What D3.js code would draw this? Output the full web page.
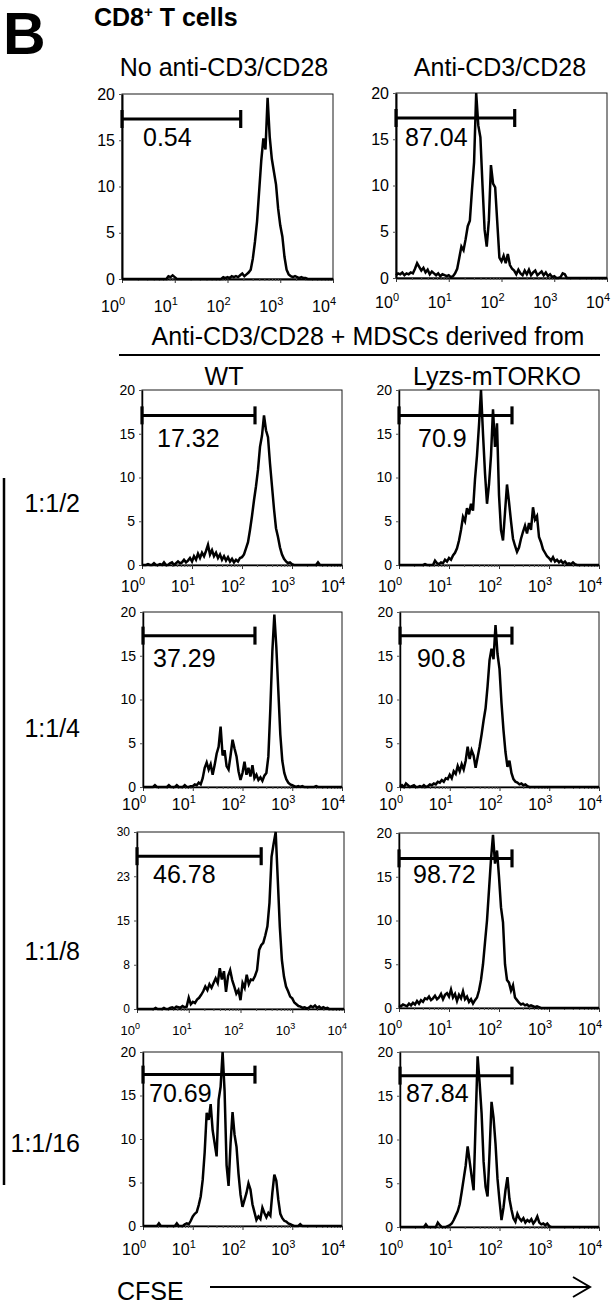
<!DOCTYPE html>
<html>
<head>
<meta charset="utf-8">
<script src="https://cdn.jsdelivr.net/npm/d3@7"></script>
<style>
  body { margin: 0; background: #fff; }
  svg { display: block; font-family: "Liberation Sans", Arial, sans-serif; }
</style>
</head>
<body>
<div id="chart"></div>
<script>
/* CD8+ T cell CFSE dilution histograms, 5 rows x 2 columns */

// ---- data -------------------------------------------------------------
// histogram channels: 25 per decade, CFSE 10^0 .. 10^4
const CHANNELS = d3.range(101).map(i => Math.pow(10, i / 25));

const topTitles = ["No anti-CD3/CD28", "Anti-CD3/CD28"];
const groupNames = ["WT", "Lyzs-mTORKO"];
const ratioLabels = ["1:1/2", "1:1/4", "1:1/8", "1:1/16"];
const gatePercents = ["0.54", "87.04", "17.32", "70.9", "37.29", "90.8", "46.78", "98.72", "70.69", "87.84"];
const gateLevel = [17.3, 17.3, 17.1, 17.1, 17.3, 17.3, 25.9, 17.1, 17.4, 17.3];
const gateUpper = [178, 178, 182, 182, 178, 178, 251, 182, 178, 178];
const yMax = [20, 20, 20, 20, 20, 20, 30, 20, 20, 20];

const yTicks20 = [0, 5, 10, 15, 20];
const yLabels20 = ["0", "5", "10", "15", "20"];
const yTicks30 = [0, 7.5, 15, 22.5, 30];
const yLabels30 = ["0", "8", "15", "23", "30"];
const xTickValues = [1, 10, 100, 1000, 10000];
const xTickExps = ["0", "1", "2", "3", "4"];

const noStim = [
  0,0,0,0,0,0,0,0,0,0,0,0,0,0,0,0,0,0,0,0,0,0,0.3,0.2,0.4,
  0.2,0,0,0,0,0,0,0,0,0,0,0,0,0,0,0,0,0,0,0,0,0,0,0.2,0.1,
  0.2,0.1,0.3,0.2,0.3,0.2,0.4,0.6,0.3,0.5,0.7,1.0,2.2,4.0,6.2,9.5,12.8,15.2,14.0,19.6,15.4,13.0,11.6,10.2,7.6,
  5.8,4.6,2.4,1.0,0.5,0.3,0.2,0.3,0.2,0.1,0.2,0.1,0.1,0,0,0,0,0,0,0,0,0,0,0,0,
  0
];
const stim = [
  0.3,0.5,0.4,0.6,0.3,0.5,0.4,0.6,0.5,1.0,1.6,1.2,0.8,1.1,0.6,0.9,0.4,0.7,0.5,0.3,0.5,0.2,0.4,0.3,0.2,
  0.3,0.1,0.2,0.5,1.0,2.2,3.4,3.0,4.2,5.6,6.2,9.5,12.5,20.0,16.5,15.2,10.0,5.2,3.4,6.2,12.2,10.2,9.8,6.0,2.2,
  1.8,2.4,1.6,2.6,1.4,1.0,0.8,0.4,0.9,0.5,0.3,0.8,0.4,0.9,0.3,0.6,0.8,0.3,0.5,0.7,0.3,0.6,0.2,0.4,0.1,
  0.2,0,0,0.1,0.5,0.4,0,0,0,0,0,0,0,0,0,0,0,0,0,0,0,0,0,0,0,
  0
];
const wt2 = [
  0,0,0,0.1,0,0,0.2,0,0,0.1,0,0.3,0,0,0.2,0.3,0,0.2,0.4,0.2,0.3,0.6,0.3,0.5,0.8,
  0.4,1.0,0.6,1.3,0.8,1.4,1.0,1.6,2.3,1.2,1.7,1.0,1.4,0.8,1.2,0.6,1.0,0.5,0.9,0.4,0.7,0.3,0.6,0.4,0.8,
  0.9,1.2,1.9,2.6,4.0,5.6,7.4,9.0,10.9,13.5,14.8,17.1,15.4,14.6,11.6,9.0,6.4,4.2,3.2,2.0,1.2,0.7,0.4,0.2,0.3,
  0.1,0,0,0,0,0,0,0,0,0,0,0,0,0.3,0,0,0,0,0,0,0,0,0,0,0,
  0
];
const ko2 = [
  0,0,0,0,0,0,0,0,0,0,0,0,0,0.1,0,0,0,0,0.5,0.2,0.1,0.3,0.2,0.6,0.4,
  0.8,0.6,1.1,1.4,1.9,2.8,4.0,5.5,5.0,6.5,5.8,7.0,6.2,9.8,12.5,16.0,20.0,15.0,10.5,7.0,9.2,12.5,17.8,13.5,16.2,
  8.0,4.0,2.8,6.0,9.2,7.2,5.0,3.0,2.2,1.5,2.0,3.0,3.8,4.5,3.6,4.8,4.0,6.6,5.2,5.6,3.2,2.6,1.8,1.4,1.0,
  0.8,0.5,0.9,0.4,0.6,0.3,0.5,0.2,0.4,0.1,0.2,0.1,0.3,0.1,0,0,0,0,0,0,0,0,0,0,0,
  0
];
const wt4 = [
  0,0,0,0,0,0,0.2,0,0,0,0,0,0,0.2,0,0,0,0.2,0,0,0,0.2,0,0,0.1,
  0.1,0.3,0.2,0.5,0.3,1.0,2.2,2.8,2.0,2.6,1.4,2.5,3.8,4.6,6.9,3.6,4.2,2.4,2.0,3.6,5.4,4.4,3.5,1.8,0.8,
  1.6,2.9,1.4,2.2,1.2,2.5,1.0,1.4,0.8,1.1,0.7,1.3,1.6,3.5,9.0,15.5,19.7,16.0,11.0,6.0,3.0,1.6,0.9,0.5,0.3,
  0.2,0.1,0,0.1,0,0.1,0,0,0,0,0,0,0.1,0,0,0,0,0,0,0,0,0,0,0,0,
  0
];
const ko4 = [
  0,0.2,0,0.4,0.2,0,0.1,0.2,0,0,0.1,0,0.2,0,0.1,0.3,0.2,0.4,0.3,0.6,0.5,0.8,0.6,1.0,0.9,
  1.4,1.0,1.8,1.5,2.4,1.8,2.6,2.0,3.0,4.6,3.2,4.2,3.6,2.2,3.4,4.6,6.0,7.6,9.0,11.5,14.5,15.8,14.6,18.5,15.2,
  13.5,9.6,6.5,4.0,2.3,3.0,1.6,0.9,0.6,0.5,0.3,0.4,0.2,0.3,0.1,0,0,0,0,0,0,0,0,0,0,
  0,0,0,0,0,0,0,0,0,0,0,0,0,0,0,0,0,0,0,0,0,0,0,0,0,
  0
];
const wt8 = [
  0,0,0,0,0,0,0,0,0,0.2,0,0,0,0.2,0,0,0.2,0.3,0.1,0.4,0.3,0.2,0.5,0.3,0.4,
  1.9,0.8,1.2,1.0,1.6,1.9,2.4,3.0,3.8,3.2,4.2,3.6,4.4,5.2,4.4,6.9,5.0,6.4,2.9,5.6,6.6,4.9,3.8,2.6,3.2,
  1.5,4.4,3.6,5.8,4.2,5.0,4.9,5.6,6.6,10.0,10.8,11.2,12.5,14.0,18.0,25.8,28.0,30.0,22.0,13.9,8.3,5.5,3.8,3.0,2.1,
  1.8,1.1,0.8,0.5,0.4,0.2,0.3,0.1,0.2,0.5,0.3,0.6,0.2,0.4,0.1,0.3,0.1,0.2,0,0,0,0,0,0,0,
  0
];
const ko8 = [
  0.3,0.2,0.4,0.3,0.2,0.5,0.3,0.6,0.4,0.8,0.5,0.9,0.7,1.1,1.0,1.3,0.9,1.1,1.4,1.0,1.2,1.6,1.0,1.5,1.7,
  1.3,2.1,1.2,1.6,0.8,1.5,1.1,1.9,1.0,1.3,0.7,1.0,0.5,0.9,1.2,2.0,3.2,5.0,7.5,10.0,13.5,17.0,19.8,16.5,18.0,
  15.0,11.5,9.8,5.0,3.2,2.9,2.0,2.6,1.2,0.9,0.6,0.4,0.5,0.3,0.4,0.2,0.3,0.2,0.1,0.2,0.1,0,0,0,0,
  0,0,0,0,0,0,0,0,0,0,0,0,0,0,0,0,0,0,0,0,0,0,0,0,0,
  0
];
const wt16 = [
  0,0,0,0,0,0,0,0,0.3,0,0,0,0,0,0,0,0,0.3,0,0,0,0.2,0.3,0.2,0.6,
  1.1,1.4,1.6,2.4,3.4,5.3,8.5,13.0,12.2,14.0,11.0,9.5,8.0,14.5,16.0,20.0,15.5,7.0,4.6,9.5,13.1,10.5,9.1,6.0,3.6,
  2.2,3.0,3.8,4.9,4.2,2.5,1.6,0.7,1.1,0.8,2.1,1.5,1.0,1.5,1.2,3.8,5.9,5.2,3.0,1.4,0.9,0.6,0.5,0.3,0.2,
  0.1,0,0,0,0.2,0,0,0,0,0,0,0,0,0,0,0,0,0,0,0,0,0,0,0,0,
  0
];
const ko16 = [
  0,0,0,0,0,0,0,0,0,0,0,0,0,0.3,0,0,0,0,0,0.5,0.2,0,0,0,0.1,
  0.2,0.4,0.8,1.3,1.8,2.6,4.0,5.5,7.0,9.2,7.5,5.8,4.2,12.0,19.5,16.5,13.0,7.5,4.6,3.5,8.5,14.3,12.5,9.5,5.5,
  3.0,0.8,2.2,4.2,5.7,3.2,2.0,1.0,0.6,1.5,1.0,0.7,1.0,0.5,0.8,0.6,0.9,0.4,0.7,1.2,0.5,0.3,0.4,0.2,0.4,
  0.1,0,0,0,0,0,0,0,0,0,0,0,0,0,0,0,0,0,0,0,0,0,0,0,0,
  0
];
const histograms = [noStim, stim, wt2, ko2, wt4, ko4, wt8, ko8, wt16, ko16];

// ---- layout -----------------------------------------------------------
const W = 616, H = 1312;
const FONT = "'Liberation Sans', Arial, sans-serif";

// plot boxes, row by row (left, right)
const panels = [
  { x0: 122, x1: 333, y0: 94,   y1: 279,  tickBase: 312,  yFont: 16, xFont: 16, axisW: 2,   labelDx: 21, labelDy: 52 },
  { x0: 396, x1: 607, y0: 93,   y1: 278,  tickBase: 308,  yFont: 16, xFont: 16, axisW: 2,   labelDx: 9,  labelDy: 53 },
  { x0: 142, x1: 342, y0: 390,  y1: 565,  tickBase: 592,  yFont: 14, xFont: 16, axisW: 1.5, labelDx: 15, labelDy: 57 },
  { x0: 399, x1: 599, y0: 390,  y1: 565,  tickBase: 592,  yFont: 14, xFont: 16, axisW: 1.5, labelDx: 19, labelDy: 57 },
  { x0: 143, x1: 342, y0: 612,  y1: 787,  tickBase: 810,  yFont: 14, xFont: 16, axisW: 1.5, labelDx: 10, labelDy: 55 },
  { x0: 400, x1: 599, y0: 612,  y1: 787,  tickBase: 810,  yFont: 14, xFont: 16, axisW: 1.5, labelDx: 17, labelDy: 55 },
  { x0: 137, x1: 344, y0: 832,  y1: 1009, tickBase: 1035, yFont: 12, xFont: 13, axisW: 1.5, labelDx: 16, labelDy: 51 },
  { x0: 399, x1: 599, y0: 833,  y1: 1008, tickBase: 1035, yFont: 14, xFont: 16, axisW: 1.5, labelDx: 14, labelDy: 50 },
  { x0: 143, x1: 342, y0: 1052, y1: 1226, tickBase: 1255, yFont: 14, xFont: 16, axisW: 1.5, labelDx: 6,  labelDy: 50 },
  { x0: 400, x1: 599, y0: 1052, y1: 1227, tickBase: 1255, yFont: 14, xFont: 16, axisW: 1.5, labelDx: 6,  labelDy: 50 }
];

const svg = d3.select("#chart")
  .append("svg")
  .attr("width", W)
  .attr("height", H)
  .attr("viewBox", `0 0 ${W} ${H}`);

// minor log ticks (2..9 in each decade)
const minorTicks = [];
[1, 10, 100, 1000].forEach(d => { for (let k = 2; k <= 9; k++) minorTicks.push(k * d); });

panels.forEach((p, i) => {
  const g = svg.append("g").attr("class", "panel");
  const x = d3.scaleLog().domain([1, 1e4]).range([p.x0, p.x1]);
  const y = d3.scaleLinear().domain([0, yMax[i]]).range([p.y1, p.y0]);
  const isThirty = yMax[i] === 30;

  // thin frame
  g.append("rect")
    .attr("x", p.x0).attr("y", p.y0)
    .attr("width", p.x1 - p.x0).attr("height", p.y1 - p.y0)
    .attr("fill", "none").attr("stroke", "#1a1a1a").attr("stroke-width", 1);

  // x axis: decade ticks + minor ticks
  const xa = g.append("g").attr("transform", `translate(0,${p.y1})`)
    .call(d3.axisBottom(x).tickValues(xTickValues).tickSize(4).tickSizeOuter(0).tickFormat(() => ""));
  xa.select(".domain").attr("stroke", "#000").attr("stroke-width", p.axisW);
  xa.selectAll(".tick line").attr("stroke", "#333");

  const xm = g.append("g").attr("transform", `translate(0,${p.y1})`)
    .call(d3.axisBottom(x).tickValues(minorTicks).tickSize(2).tickFormat(() => ""));
  xm.select(".domain").remove();
  xm.selectAll(".tick line").attr("stroke", "#555");

  // x tick labels 10^n
  xTickValues.forEach((v, j) => {
    const t = g.append("text")
      .attr("x", x(v) + 3)
      .attr("y", p.tickBase)
      .attr("text-anchor", "end")
      .attr("font-family", FONT)
      .attr("font-size", p.xFont)
      .attr("fill", "#000");
    t.append("tspan").text("10");
    t.append("tspan")
      .attr("dy", -p.xFont * 0.45)
      .attr("font-size", Math.round(p.xFont * 0.66))
      .text(xTickExps[j]);
  });

  // y axis
  const ya = g.append("g").attr("transform", `translate(${p.x0},0)`)
    .call(d3.axisLeft(y)
      .tickValues(isThirty ? yTicks30 : yTicks20)
      .tickSize(3).tickSizeOuter(0).tickPadding(4)
      .tickFormat((d, j) => (isThirty ? yLabels30 : yLabels20)[j]));
  ya.select(".domain").attr("stroke", "#000").attr("stroke-width", p.axisW);
  ya.selectAll(".tick line").attr("stroke", "#555");
  ya.selectAll(".tick text")
    .attr("font-family", FONT)
    .attr("font-size", p.yFont)
    .attr("fill", "#000");

  // histogram
  const pts = CHANNELS.map((c, k) => ({ c, v: histograms[i][k] }));
  const line = d3.line()
    .x(d => x(d.c))
    .y(d => y(Math.min(d.v, yMax[i])));
  g.append("path")
    .datum(pts)
    .attr("d", line)
    .attr("fill", "none")
    .attr("stroke", "#000")
    .attr("stroke-width", 2.5)
    .attr("stroke-linejoin", "miter");

  // gate marker
  const gy = y(gateLevel[i]);
  const gx0 = x(1), gx1 = x(gateUpper[i]);
  g.append("line")
    .attr("x1", gx0).attr("x2", gx1).attr("y1", gy).attr("y2", gy)
    .attr("stroke", "#000").attr("stroke-width", 3);
  [gx0, gx1].forEach(cx => {
    g.append("line")
      .attr("x1", cx).attr("x2", cx).attr("y1", gy - 9).attr("y2", gy + 9)
      .attr("stroke", "#000").attr("stroke-width", 3.2);
  });

  g.append("text")
    .attr("x", p.x0 + p.labelDx)
    .attr("y", p.y0 + p.labelDy)
    .attr("font-family", FONT)
    .attr("font-size", 25)
    .attr("fill", "#000")
    .text(gatePercents[i]);
});

// ---- headings ---------------------------------------------------------
svg.append("text")
  .attr("x", 3).attr("y", 54)
  .attr("font-family", FONT).attr("font-weight", "bold").attr("font-size", 59)
  .text("B");

const t8 = svg.append("text")
  .attr("x", 94).attr("y", 26)
  .attr("font-family", FONT).attr("font-weight", "bold").attr("font-size", 25);
t8.append("tspan").text("CD8");
t8.append("tspan").attr("dy", -9).attr("font-size", 15).text("+");
t8.append("tspan").attr("dy", 9).text(" T cells");

topTitles.forEach((s, j) => {
  svg.append("text")
    .attr("x", j === 0 ? 224 : 500).attr("y", 76)
    .attr("text-anchor", "middle")
    .attr("font-family", FONT).attr("font-size", 25)
    .text(s);
});

svg.append("text")
  .attr("x", 368).attr("y", 345)
  .attr("text-anchor", "middle")
  .attr("font-family", FONT).attr("font-size", 25)
  .text("Anti-CD3/CD28 + MDSCs derived from");
svg.append("line")
  .attr("x1", 119).attr("x2", 600).attr("y1", 355).attr("y2", 355)
  .attr("stroke", "#000").attr("stroke-width", 2);

groupNames.forEach((s, j) => {
  svg.append("text")
    .attr("x", j === 0 ? 224 : 497).attr("y", 385)
    .attr("text-anchor", "middle")
    .attr("font-family", FONT).attr("font-size", 25)
    .text(s);
});

// ratio labels + bracket
const ratioY = [512, 737, 960, 1152];
ratioLabels.forEach((s, j) => {
  svg.append("text")
    .attr("x", 80).attr("y", ratioY[j])
    .attr("text-anchor", "end")
    .attr("font-family", FONT).attr("font-size", 25)
    .text(s);
});
svg.append("line")
  .attr("x1", 4).attr("x2", 4).attr("y1", 478).attr("y2", 1185)
  .attr("stroke", "#000").attr("stroke-width", 2.5);

// CFSE arrow
svg.append("text")
  .attr("x", 117).attr("y", 1300)
  .attr("font-family", FONT).attr("font-size", 25)
  .text("CFSE");
svg.append("line")
  .attr("x1", 210).attr("x2", 589).attr("y1", 1287).attr("y2", 1287)
  .attr("stroke", "#000").attr("stroke-width", 2);
svg.append("path")
  .attr("d", "M573,1277 L590,1287 L573,1297")
  .attr("fill", "none").attr("stroke", "#000").attr("stroke-width", 2);
</script>
</body>
</html>
